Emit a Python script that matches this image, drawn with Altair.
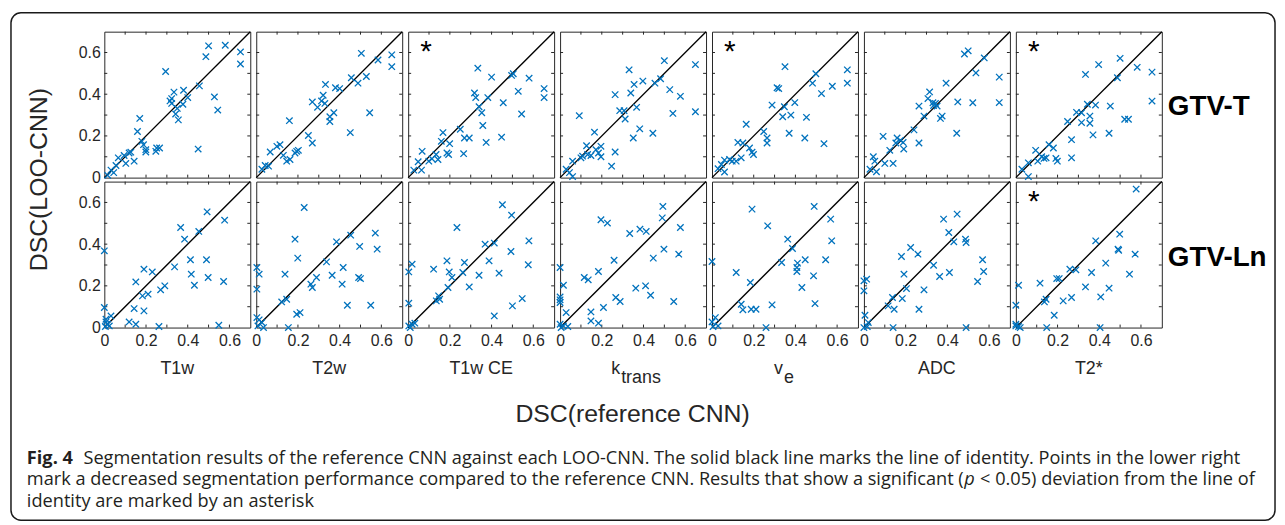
import altair as alt
import pandas as pd

# ---------------- data ----------------
COLUMN_MAIN = ["T1w", "T2w", "T1w CE", "k", "v", "ADC", "T2*"]
COLUMN_SUB = ["", "", "", "trans", "e", "", ""]
ROW_LABELS = ["GTV-T", "GTV-Ln"]
SIGNIFICANT_T = [False, False, True, False, True, False, True]
SIGNIFICANT_LN = [False, False, False, False, False, False, True]
MINOR_TICKS = [0.1, 0.2, 0.3, 0.4, 0.5, 0.6]
LABEL_TICKS = [0, 0.2, 0.4, 0.6]
IDENTITY = [0, 0.7]
AXIS_DOMAIN = [0, 0.7]

T1W_T = [(0.50, 0.632), (0.58, 0.635), (0.487, 0.58), (0.653, 0.603), (0.653, 0.545), (0.294, 0.509),
         (0.456, 0.44), (0.38, 0.419), (0.334, 0.41), (0.323, 0.379), (0.315, 0.368), (0.323, 0.356),
         (0.40, 0.384), (0.377, 0.352), (0.35, 0.332), (0.342, 0.305), (0.355, 0.277), (0.528, 0.387),
         (0.544, 0.324), (0.45, 0.137), (0.17, 0.284), (0.159, 0.221), (0.18, 0.174), (0.188, 0.158),
         (0.199, 0.134), (0.199, 0.123), (0.251, 0.142), (0.265, 0.142), (0.247, 0.126), (0.127, 0.122),
         (0.143, 0.079), (0.103, 0.068), (0.067, 0.095), (0.095, 0.106), (0.119, 0.118), (0.056, 0.058),
         (0.032, 0.036), (0.045, 0.024), (0.016, 0.011)]
T1W_LN = [(0, 0.368), (0, 0.096), (0.008, 0.04), (0.032, 0.056), (0.016, 0.016), (0.005, 0.005),
          (0.024, 0.008), (0.008, 0.027), (0.151, 0.219), (0.19, 0.28), (0.23, 0.267), (0.183, 0.152),
          (0.21, 0.16), (0.19, 0.08), (0.143, 0.091), (0.119, 0.027), (0.151, 0.016), (0.262, 0.005),
          (0.27, 0.181), (0.29, 0.2), (0.337, 0.291), (0.366, 0.48), (0.385, 0.424), (0.413, 0.325),
          (0.417, 0.256), (0.432, 0.203), (0.453, 0.461), (0.49, 0.325), (0.493, 0.555), (0.498, 0.24),
          (0.577, 0.515), (0.572, 0.221), (0.549, 0.011)]
T2W_T = [(0.504, 0.596), (0.584, 0.564), (0.65, 0.589), (0.65, 0.532), (0.456, 0.479), (0.528, 0.485),
         (0.488, 0.453), (0.332, 0.447), (0.38, 0.431), (0.40, 0.427), (0.321, 0.395), (0.269, 0.363),
         (0.313, 0.368), (0.329, 0.356), (0.294, 0.337), (0.372, 0.311), (0.353, 0.292), (0.353, 0.269),
         (0.544, 0.311), (0.451, 0.216), (0.159, 0.273), (0.25, 0.202), (0.269, 0.166), (0.194, 0.126),
         (0.186, 0.118), (0.202, 0.131), (0.13, 0.107), (0.146, 0.079), (0.114, 0.158), (0.099, 0.15),
         (0.067, 0.123), (0.162, 0.087), (0.059, 0.055), (0.027, 0.04), (0.043, 0.058)]
T2W_LN = [(0.23, 0.576), (0.186, 0.424), (0.199, 0.333), (0.385, 0.411), (0.453, 0.443), (0.571, 0.453),
          (0.58, 0.376), (0.496, 0.389), (0.337, 0.315), (0.417, 0.288), (0.364, 0.251), (0.412, 0.208),
          (0.491, 0.24), (0.5, 0.235), (0.289, 0.24), (0.262, 0.208), (0.269, 0.192), (0.138, 0.256),
          (0.146, 0.136), (0.122, 0.123), (0.437, 0.107), (0.549, 0.107), (0.194, 0.064), (0.21, 0.072),
          (0.154, 0.0), (0.003, 0.288), (0.014, 0.256), (0.003, 0.184), (0.003, 0.048), (0.014, 0.037),
          (0.027, 0.024), (0.008, 0.008), (0.035, 0.0)]
T1WCE_T = [(0.334, 0.525), (0.40, 0.482), (0.496, 0.49), (0.504, 0.498), (0.58, 0.477), (0.652, 0.427),
           (0.652, 0.384), (0.318, 0.406), (0.324, 0.384), (0.382, 0.384), (0.528, 0.414), (0.456, 0.359),
           (0.34, 0.34), (0.353, 0.311), (0.544, 0.305), (0.358, 0.25), (0.374, 0.169), (0.448, 0.194),
           (0.293, 0.19), (0.27, 0.19), (0.25, 0.232), (0.266, 0.115), (0.167, 0.216), (0.159, 0.174),
           (0.199, 0.163), (0.186, 0.118), (0.194, 0.111), (0.134, 0.111), (0.143, 0.087), (0.114, 0.09),
           (0.099, 0.079), (0.067, 0.126), (0.048, 0.076), (0.064, 0.036), (0.027, 0.036)]
T1WCE_LN = [(0.452, 0.589), (0.496, 0.539), (0.234, 0.48), (0.369, 0.4), (0.413, 0.405), (0.579, 0.416),
            (0.493, 0.365), (0.576, 0.301), (0.388, 0.32), (0.436, 0.261), (0.34, 0.251), (0.186, 0.32),
            (0.27, 0.312), (0.197, 0.267), (0.21, 0.24), (0.262, 0.264), (0.122, 0.28), (0.191, 0.192),
            (0.293, 0.195), (0.146, 0.152), (0.151, 0.136), (0.135, 0.128), (0.547, 0.139), (0.5, 0.104),
            (0.413, 0.056), (0.019, 0.304), (0.003, 0.267), (0.003, 0.117), (0.003, 0.008), (0.019, 0.016),
            (0.032, 0.021), (0.01, 0.0)]
KTRANS_T = [(0.50, 0.561), (0.649, 0.542), (0.331, 0.517), (0.355, 0.447), (0.397, 0.463), (0.339, 0.406),
            (0.455, 0.453), (0.482, 0.474), (0.526, 0.422), (0.577, 0.39), (0.264, 0.398), (0.286, 0.321),
            (0.307, 0.321), (0.312, 0.281), (0.367, 0.337), (0.541, 0.308), (0.649, 0.316), (0.092, 0.297),
            (0.382, 0.234), (0.351, 0.19), (0.445, 0.213), (0.165, 0.218), (0.264, 0.123), (0.247, 0.055),
            (0.196, 0.15), (0.127, 0.153), (0.132, 0.111), (0.148, 0.106), (0.172, 0.134), (0.184, 0.118),
            (0.196, 0.1), (0.108, 0.103), (0.1, 0.095), (0.06, 0.079), (0.029, 0.04), (0.045, 0.024),
            (0.06, 0.005)]
KTRANS_LN = [(0.493, 0.581), (0.49, 0.526), (0.196, 0.517), (0.227, 0.501), (0.334, 0.451), (0.383, 0.472),
             (0.413, 0.461), (0.577, 0.48), (0.498, 0.376), (0.569, 0.352), (0.447, 0.333), (0.259, 0.323),
             (0.184, 0.269), (0.116, 0.24), (0.135, 0.229), (0.363, 0.189), (0.41, 0.2), (0.434, 0.155),
             (0.267, 0.144), (0.288, 0.125), (0.545, 0.125), (0.208, 0.096), (0.148, 0.075), (0.148, 0.032),
             (0.184, 0.021), (0.0, 0.288), (0.016, 0.203), (0.0, 0.147), (0.0, 0.133), (0.0, 0.12),
             (0.029, 0.072), (0.0, 0.016), (0.016, 0.008), (0.037, 0.005), (0.005, 0.0)]
VE_T = [(0.35, 0.532), (0.649, 0.517), (0.649, 0.453), (0.498, 0.498), (0.482, 0.453), (0.577, 0.438),
        (0.525, 0.403), (0.312, 0.431), (0.32, 0.427), (0.397, 0.36), (0.288, 0.348), (0.347, 0.34),
        (0.339, 0.292), (0.378, 0.3), (0.453, 0.289), (0.37, 0.213), (0.445, 0.19), (0.537, 0.163),
        (0.164, 0.256), (0.248, 0.221), (0.264, 0.19), (0.264, 0.166), (0.124, 0.169), (0.148, 0.166),
        (0.18, 0.142), (0.192, 0.122), (0.199, 0.111), (0.14, 0.095), (0.116, 0.079), (0.097, 0.079),
        (0.084, 0.087), (0.06, 0.084), (0.045, 0.063), (0.029, 0.043), (0.06, 0.027)]
VE_LN = [(0.192, 0.568), (0.49, 0.581), (0.267, 0.488), (0.569, 0.52), (0.574, 0.416), (0.363, 0.424),
         (0.386, 0.379), (0.334, 0.312), (0.41, 0.309), (0.447, 0.325), (0.407, 0.288), (0.407, 0.269),
         (0.545, 0.325), (0.487, 0.248), (0.431, 0.192), (0.116, 0.264), (0.184, 0.216), (0.288, 0.109),
         (0.494, 0.115), (0.14, 0.112), (0.148, 0.085), (0.188, 0.088), (0.211, 0.088), (0.259, 0.0),
         (0.0, 0.317), (0.016, 0.048), (0.0, 0.027), (0.029, 0.008), (0.005, 0.005)]
ADC_T = [(0.482, 0.593), (0.5, 0.608), (0.577, 0.574), (0.537, 0.502), (0.649, 0.482), (0.394, 0.453),
         (0.315, 0.411), (0.307, 0.379), (0.331, 0.359), (0.343, 0.356), (0.351, 0.343), (0.334, 0.346),
         (0.45, 0.363), (0.522, 0.359), (0.649, 0.36), (0.264, 0.343), (0.288, 0.295), (0.375, 0.295),
         (0.367, 0.284), (0.445, 0.213), (0.24, 0.229), (0.264, 0.166), (0.092, 0.198), (0.159, 0.19),
         (0.175, 0.179), (0.153, 0.166), (0.188, 0.169), (0.191, 0.137), (0.124, 0.131), (0.045, 0.1),
         (0.052, 0.079), (0.1, 0.068), (0.14, 0.068), (0.029, 0.04), (0.06, 0.028)]
ADC_LN = [(0.447, 0.544), (0.382, 0.52), (0.407, 0.456), (0.431, 0.411), (0.487, 0.424), (0.49, 0.408),
          (0.224, 0.384), (0.259, 0.352), (0.18, 0.341), (0.334, 0.299), (0.569, 0.325), (0.574, 0.269),
          (0.41, 0.264), (0.363, 0.245), (0.545, 0.221), (0.192, 0.256), (0.204, 0.187), (0.288, 0.181),
          (0.137, 0.144), (0.184, 0.139), (0.116, 0.104), (0.145, 0.088), (0.264, 0.088), (0.14, 0.0),
          (0.49, 0.0), (0.0, 0.224), (0.013, 0.232), (0.0, 0.176), (0.005, 0.059), (0.021, 0.024),
          (0.0, 0.0), (0.016, 0.005)]
T2S_T = [(0.5, 0.572), (0.397, 0.542), (0.582, 0.529), (0.653, 0.506), (0.334, 0.495), (0.487, 0.479),
         (0.653, 0.367), (0.343, 0.352), (0.382, 0.348), (0.453, 0.343), (0.291, 0.313), (0.315, 0.311),
         (0.355, 0.295), (0.315, 0.264), (0.355, 0.261), (0.522, 0.28), (0.54, 0.28), (0.248, 0.269),
         (0.37, 0.205), (0.447, 0.213), (0.267, 0.182), (0.267, 0.095), (0.159, 0.158), (0.18, 0.142),
         (0.095, 0.131), (0.124, 0.1), (0.135, 0.092), (0.145, 0.095), (0.192, 0.092), (0.199, 0.079),
         (0.105, 0.079), (0.06, 0.071), (0.029, 0.04), (0.06, 0.005)]
T2S_LN = [(0.577, 0.664), (0.498, 0.448), (0.383, 0.416), (0.49, 0.376), (0.493, 0.371), (0.572, 0.352),
          (0.431, 0.309), (0.545, 0.256), (0.363, 0.264), (0.259, 0.28), (0.288, 0.277), (0.196, 0.235),
          (0.208, 0.235), (0.116, 0.213), (0.334, 0.195), (0.447, 0.189), (0.013, 0.203), (0.267, 0.144),
          (0.227, 0.128), (0.407, 0.147), (0.145, 0.136), (0.137, 0.123), (0.184, 0.059), (0.0, 0.107),
          (0.148, 0.0), (0.404, 0.0), (0.0, 0.008), (0.013, 0.005), (0.0, 0.016), (0.021, 0.0)]

TOP_ROW = [T1W_T, T2W_T, T1WCE_T, KTRANS_T, VE_T, ADC_T, T2S_T]
BOTTOM_ROW = [T1W_LN, T2W_LN, T1WCE_LN, KTRANS_LN, VE_LN, ADC_LN, T2S_LN]

CAPTION_BOLD = "Fig. 4"
CAPTION_1 = ("Segmentation results of the reference CNN against each LOO-CNN. The solid black line "
             "marks the line of identity. Points in the lower right")
CAPTION_2A = ("mark a decreased segmentation performance compared to the reference CNN. Results that "
              "show a significant (")
CAPTION_2P = "p"
CAPTION_2B = "< 0.05) deviation from the line of"
CAPTION_3 = "identity are marked by an asterisk"
X_TITLE = "DSC(reference CNN)"
Y_TITLE = "DSC(LOO-CNN)"

# ---------------- styling ----------------
W, H = 147, 147
BLUE = "#0072BD"
AXC = "#262626"
SANS = "Liberation Sans"
CAP_FONT = "Open Sans"
CAP_SIZE = 18.3
CAP_COLOR = "#231f20"
XPATH = "M-1,-1L1,1M-1,1L1,-1"


def txt(text, x, y, **kw):
    return alt.Chart(pd.DataFrame({"t": [text]})).mark_text(**kw).encode(
        text="t:N", x=alt.value(x), y=alt.value(y))


def panel(points, row, col):
    xs = alt.Scale(domain=AXIS_DOMAIN, nice=False, zero=False)
    ys = alt.Scale(domain=AXIS_DOMAIN, nice=False, zero=False)
    lab = "datum.value == 0 ? '0' : format(datum.value, '.1f')"
    if row == 1:
        xaxis = alt.Axis(values=LABEL_TICKS, labelExpr=lab, title=None, ticks=False, domain=False,
                         grid=False, labelPadding=5, labelFontSize=16, labelFont=SANS,
                         labelColor=AXC, labelFlush=False, labelOverlap=False)
    else:
        xaxis = None
    if col == 0:
        yaxis = alt.Axis(values=LABEL_TICKS, labelExpr=lab, title=None, ticks=False, domain=False,
                         grid=False, labelPadding=4, labelFontSize=16, labelFont=SANS,
                         labelColor=AXC, labelFlush=False, labelOverlap=False)
    else:
        yaxis = None

    tick_df = pd.DataFrame({"t": MINOR_TICKS})
    tx_b = alt.Chart(tick_df).mark_rule(color=AXC, strokeWidth=1).encode(
        x=alt.X("t:Q", scale=xs, axis=xaxis), y=alt.value(H), y2=alt.value(H - 3))
    tx_t = alt.Chart(tick_df).mark_rule(color=AXC, strokeWidth=1).encode(
        x=alt.X("t:Q", scale=xs, axis=xaxis), y=alt.value(0), y2=alt.value(3))
    ty_l = alt.Chart(tick_df).mark_rule(color=AXC, strokeWidth=1).encode(
        y=alt.Y("t:Q", scale=ys, axis=yaxis), x=alt.value(0), x2=alt.value(3))
    ty_r = alt.Chart(tick_df).mark_rule(color=AXC, strokeWidth=1).encode(
        y=alt.Y("t:Q", scale=ys, axis=yaxis), x=alt.value(W), x2=alt.value(W - 3))

    ident = alt.Chart(pd.DataFrame({"a": IDENTITY})).mark_line(color="black", strokeWidth=1.4).encode(
        x=alt.X("a:Q", scale=xs, axis=xaxis), y=alt.Y("a:Q", scale=ys, axis=yaxis))

    df = pd.DataFrame(points, columns=["ref", "loo"])
    pts = alt.Chart(df).mark_point(shape=XPATH, size=42, strokeWidth=1.3, color=BLUE,
                                   opacity=1, filled=False).encode(
        x=alt.X("ref:Q", scale=xs, axis=xaxis), y=alt.Y("loo:Q", scale=ys, axis=yaxis))

    layers = [tx_b, tx_t, ty_l, ty_r, ident, pts]

    sig = SIGNIFICANT_T[col] if row == 0 else SIGNIFICANT_LN[col]
    if sig:
        layers.append(txt("*", 18, 30, fontSize=30, font=SANS, color="black", align="center",
                          baseline="alphabetic"))

    if col == 6:
        layers.append(txt(ROW_LABELS[row], W + 6, 84 if row == 0 else 85, fontSize=28,
                          fontWeight="bold", font=SANS, color="black", align="left",
                          baseline="alphabetic"))

    if row == 1:
        main = COLUMN_MAIN[col]
        sub = COLUMN_SUB[col]
        if sub:
            off = -13 if sub == "trans" else -2
            layers.append(txt(main, W / 2 + off, 194, fontSize=18, font=SANS, color=AXC,
                              align="right", baseline="alphabetic"))
            layers.append(txt(sub, W / 2 + off + 1, 203, fontSize=18, font=SANS, color=AXC,
                              align="left", baseline="alphabetic"))
        else:
            layers.append(txt(main, W / 2, 194, fontSize=18, font=SANS, color=AXC,
                              align="center", baseline="alphabetic"))

    if row == 0 and col == 0:
        frame = alt.Chart(pd.DataFrame({"f": [1]})).mark_rect(
            cornerRadius=10, fillOpacity=0, stroke="#1a1a1a", strokeWidth=1.5).encode(
            x=alt.value(-94), x2=alt.value(1179), y=alt.value(-19), y2=alt.value(492))
        layers.insert(0, frame)
        layers.append(txt(Y_TITLE, -66, 149, fontSize=25, font=SANS, color=AXC, angle=270,
                          align="center", baseline="middle"))
        layers.append(txt(X_TITLE, 532, 393, fontSize=25, font=SANS, color=AXC,
                          align="center", baseline="alphabetic"))
        layers.append(txt(CAPTION_BOLD, -78, 435, fontSize=CAP_SIZE, font=CAP_FONT, fontWeight="bold",
                          color=CAP_COLOR, align="left", baseline="alphabetic"))
        layers.append(txt(CAPTION_1, -21, 435, fontSize=CAP_SIZE, font=CAP_FONT,
                          color=CAP_COLOR, align="left", baseline="alphabetic"))
        layers.append(txt(CAPTION_2A, -78, 457, fontSize=CAP_SIZE, font=CAP_FONT,
                          color=CAP_COLOR, align="left", baseline="alphabetic"))
        layers.append(txt(CAPTION_2P, 866, 457, fontSize=CAP_SIZE, font=CAP_FONT, fontStyle="italic",
                          color=CAP_COLOR, align="left", baseline="alphabetic"))
        layers.append(txt(CAPTION_2B, 882, 457, fontSize=CAP_SIZE, font=CAP_FONT,
                          color=CAP_COLOR, align="left", baseline="alphabetic"))
        layers.append(txt(CAPTION_3, -78, 479, fontSize=CAP_SIZE, font=CAP_FONT,
                          color=CAP_COLOR, align="left", baseline="alphabetic"))

    return alt.layer(*layers).properties(width=W, height=H)


panels = [panel(p, 0, i) for i, p in enumerate(TOP_ROW)] + \
         [panel(p, 1, i) for i, p in enumerate(BOTTOM_ROW)]

chart = alt.concat(*panels, columns=7, spacing={"row": 4, "column": 6}, bounds="flush").properties(
    padding={"left": 1, "top": 1, "right": 0, "bottom": 0},
    background="white",
).configure_view(stroke=AXC, strokeWidth=1)

chart.save("out.html", embed_options={"renderer": "svg", "actions": False})
